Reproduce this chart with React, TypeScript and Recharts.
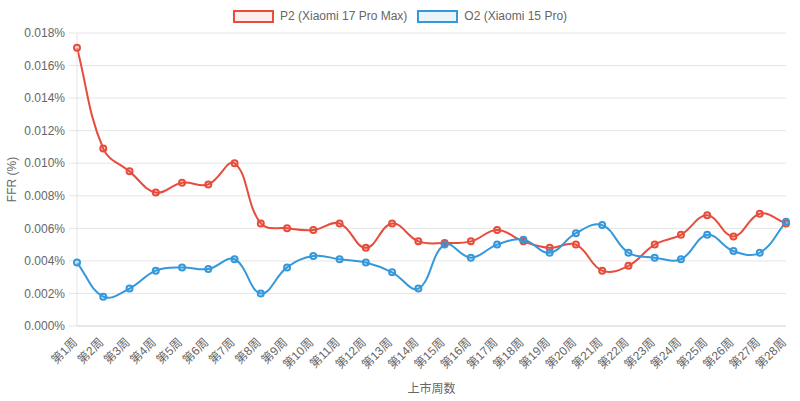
import React from 'react';
import { LineChart, Line, XAxis, YAxis, CartesianGrid } from 'recharts';

const weeks = [
  '第1周', '第2周', '第3周', '第4周', '第5周', '第6周', '第7周', '第8周', '第9周', '第10周',
  '第11周', '第12周', '第13周', '第14周', '第15周', '第16周', '第17周', '第18周', '第19周', '第20周',
  '第21周', '第22周', '第23周', '第24周', '第25周', '第26周', '第27周', '第28周',
];

const p2Values = [
  0.0171, 0.0109, 0.0095, 0.0082, 0.0088, 0.0087, 0.01, 0.0063, 0.006, 0.0059,
  0.0063, 0.0048, 0.0063, 0.0052, 0.0051, 0.0052, 0.0059, 0.0052, 0.0048, 0.005,
  0.0034, 0.0037, 0.005, 0.0056, 0.0068, 0.0055, 0.0069, 0.0063,
];

const o2Values = [
  0.0039, 0.0018, 0.0023, 0.0034, 0.0036, 0.0035, 0.0041, 0.002, 0.0036, 0.0043,
  0.0041, 0.0039, 0.0033, 0.0023, 0.005, 0.0042, 0.005, 0.0053, 0.0045, 0.0057,
  0.0062, 0.0045, 0.0042, 0.0041, 0.0056, 0.0046, 0.0045, 0.0064,
];

const yTicks = [0, 0.002, 0.004, 0.006, 0.008, 0.01, 0.012, 0.014, 0.016, 0.018];

const data = weeks.map((week, i) => ({ week, p2: p2Values[i], o2: o2Values[i] }));

const RED = '#e74c3c';
const BLUE = '#3498db';
const TEXT = '#666';
const FONT = '"Liberation Sans", Arial, Helvetica, "Noto Sans CJK SC", sans-serif';

const PLOT_TOP = 33;
const PLOT_BOTTOM = 326;

// spline like chart.js tension 0.4
function splineCurve(context: any) {
  let pts: number[][] = [];
  return {
    areaStart() {},
    areaEnd() {},
    lineStart() {
      pts = [];
    },
    point(x: number, y: number) {
      pts.push([+x, +y]);
    },
    lineEnd() {
      const n = pts.length;
      if (!n) return;
      const t = 0.4;
      const clamp = (v: number) => Math.min(PLOT_BOTTOM, Math.max(PLOT_TOP, v));
      const cps = pts.map((p, i) => {
        const prev = pts[Math.max(i - 1, 0)];
        const next = pts[Math.min(i + 1, n - 1)];
        const d01 = Math.hypot(p[0] - prev[0], p[1] - prev[1]);
        const d12 = Math.hypot(next[0] - p[0], next[1] - p[1]);
        let s01 = d01 / (d01 + d12);
        let s12 = d12 / (d01 + d12);
        if (isNaN(s01)) s01 = 0;
        if (isNaN(s12)) s12 = 0;
        const fa = t * s01;
        const fb = t * s12;
        return {
          px: p[0] - fa * (next[0] - prev[0]),
          py: clamp(p[1] - fa * (next[1] - prev[1])),
          nx: p[0] + fb * (next[0] - prev[0]),
          ny: clamp(p[1] + fb * (next[1] - prev[1])),
        };
      });
      context.moveTo(pts[0][0], pts[0][1]);
      for (let i = 1; i < n; i++) {
        context.bezierCurveTo(cps[i - 1].nx, cps[i - 1].ny, cps[i].px, cps[i].py, pts[i][0], pts[i][1]);
      }
    },
  };
}

const WeekTick = ({ x, payload }: any) => (
  <g transform={`translate(${x - 2},${340})`}>
    <text x={0} y={0} dy="0.35em" textAnchor="end" transform="rotate(-45)" fill={TEXT} fontSize={12} fontFamily={FONT}>
      {payload.value}
    </text>
  </g>
);

const LegendItem = ({ color, fill, label }: { color: string; fill: string; label: string }) => (
  <div style={{ display: 'flex', alignItems: 'center', marginRight: 10 }}>
    <div style={{ width: 41, height: 13, boxSizing: 'border-box', border: `2px solid ${color}`, background: fill, marginRight: 6 }} />
    <span>{label}</span>
  </div>
);

export default function App() {
  return (
    <div style={{ position: 'absolute', left: 0, top: 0, width: 800, height: 401, background: '#fff', fontFamily: FONT }}>
      <div
        style={{
          position: 'absolute', top: 10, left: 0, width: 800, height: 13, display: 'flex',
          justifyContent: 'center', fontSize: 12, color: TEXT, lineHeight: '13px', paddingLeft: 10, boxSizing: 'border-box',
        }}
      >
        <LegendItem color={RED} fill="rgba(231,76,60,0.1)" label="P2 (Xiaomi 17 Pro Max)" />
        <LegendItem color={BLUE} fill="rgba(52,152,219,0.1)" label="O2 (Xiaomi 15 Pro)" />
      </div>
      <LineChart width={800} height={401} data={data} margin={{ top: PLOT_TOP, right: 14, bottom: 0, left: 0 }}>
        <CartesianGrid vertical={false} stroke="#e5e5e5" />
        <XAxis
          dataKey="week"
          interval={0}
          height={401 - PLOT_BOTTOM}
          stroke="#dcdcdc"
          tickLine={false}
          tickSize={0}
          tick={<WeekTick />}
          label={{
            content: ({ viewBox }: any) => (
              <text x={viewBox.x + viewBox.width / 2} y={393} textAnchor="middle" fill={TEXT} fontSize={12} fontFamily={FONT}>
                上市周数
              </text>
            ),
          }}
        />
        <YAxis
          width={77}
          domain={[0, 0.018]}
          ticks={yTicks}
          interval={0}
          stroke="#e5e5e5"
          tickSize={8}
          tickMargin={4}
          tick={{ fill: TEXT, fontSize: 12, fontFamily: FONT }}
          tickFormatter={(v: number) => v.toFixed(3) + '%'}
          label={{
            content: ({ viewBox }: any) => (
              <text
                x={16}
                y={viewBox.y + viewBox.height / 2}
                textAnchor="middle"
                transform={`rotate(-90, 16, ${viewBox.y + viewBox.height / 2})`}
                fill={TEXT}
                fontSize={12}
                fontFamily={FONT}
              >
                FFR (%)
              </text>
            ),
          }}
        />
        <Line
          type={splineCurve as any}
          dataKey="p2"
          stroke={RED}
          strokeWidth={2}
          dot={{ r: 3, stroke: RED, strokeWidth: 2, fill: 'rgba(231,76,60,0.1)' }}
          isAnimationActive={false}
        />
        <Line
          type={splineCurve as any}
          dataKey="o2"
          stroke={BLUE}
          strokeWidth={2}
          dot={{ r: 3, stroke: BLUE, strokeWidth: 2, fill: 'rgba(52,152,219,0.1)' }}
          isAnimationActive={false}
        />
      </LineChart>
    </div>
  );
}
